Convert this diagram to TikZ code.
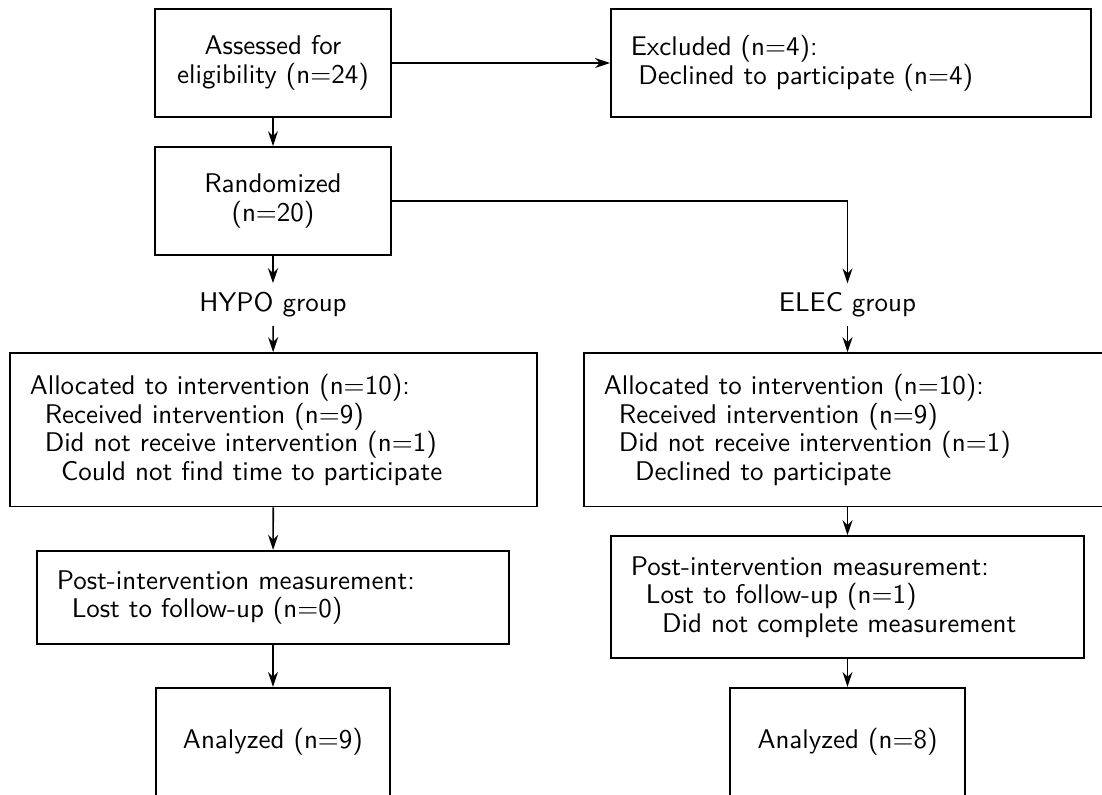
\documentclass[tikz,border=0pt]{standalone}
\usepackage{fontspec}
\usetikzlibrary{arrows.meta,positioning,shapes}
\tikzstyle{box} = [rectangle, draw=black, line width=0.7pt, inner xsep=0.28cm]
\tikzstyle{arrow} = [line width=0.65pt,-{Stealth[length=6pt,width=4pt]}]
% left aligned block of lines, #1 = block width
\newcommand{\leftlines}[2]{\vbox{#2\hrule height0pt width#1}}

\begin{document}
\begin{tikzpicture}[font=\sffamily\fontsize{10.8}{11.4}\selectfont]
\useasboundingbox (0,0) rectangle (15.493,-11.163);
% enrollment
\node (assess) [box, align=center, text width=2.76cm, minimum height=1.518cm] at (3.838,-0.886) {Assessed for\\eligibility (n=24)};
\node (excl) [box, minimum height=1.525cm] at (11.964,-0.886) {\leftlines{6.19cm}{\hbox{Excluded (n=4):}\hbox{\hskip3pt Declined to participate (n=4)}}};
\node (rand) [box, align=center, text width=2.76cm, minimum height=1.518cm] at (3.838,-2.826) {Randomized\\(n=20)};
\node (hypo) at (3.838,-4.281) {HYPO group};
\node (elec) at (11.915,-4.281) {ELEC group};
% allocation
\node (allocH) [box, minimum height=2.158cm] at (3.844,-6.043) {\leftlines{6.85cm}{\hbox{Allocated to intervention (n=10):}\hbox{\hskip6pt Received intervention (n=9)}\hbox{\hskip6pt Did not receive intervention (n=1)}\hbox{\hskip12.5pt Could not find time to participate}}};
\node (allocE) [box, minimum height=2.158cm] at (11.915,-6.043) {\leftlines{6.85cm}{\hbox{Allocated to intervention (n=10):}\hbox{\hskip6pt Received intervention (n=9)}\hbox{\hskip6pt Did not receive intervention (n=1)}\hbox{\hskip12.5pt Declined to participate}}};
% follow-up
\node (postH) [box, minimum height=1.312cm] at (3.838,-8.399) {\leftlines{6.08cm}{\hbox{Post-intervention measurement:}\hbox{\hskip6pt Lost to follow-up (n=0)}}};
\node (postE) [box, minimum height=1.719cm] at (11.915,-8.396) {\leftlines{6.09cm}{\hbox{Post-intervention measurement:}\hbox{\hskip6pt Lost to follow-up (n=1)}\hbox{\hskip12.5pt Did not complete measurement}}};
% analysis
\node (anH) [box, align=center, text width=2.74cm, minimum height=1.518cm] at (3.838,-10.428) {Analyzed (n=9)};
\node (anE) [box, align=center, text width=2.74cm, minimum height=1.518cm] at (11.915,-10.428) {Analyzed (n=8)};

\draw [arrow] (assess) -- (excl);
\draw [arrow] (assess) -- (rand);
\draw [arrow] (rand) -- (hypo);
\draw [arrow] (rand) -| (elec);
\draw [arrow] (hypo) -- (allocH);
\draw [arrow] (elec) -- (allocE);
\draw [arrow] (allocH) -- (postH);
\draw [arrow] (allocE) -- (postE);
\draw [arrow] (postH) -- (anH);
\draw [arrow] (postE) -- (anE);
\end{tikzpicture}
\end{document}
